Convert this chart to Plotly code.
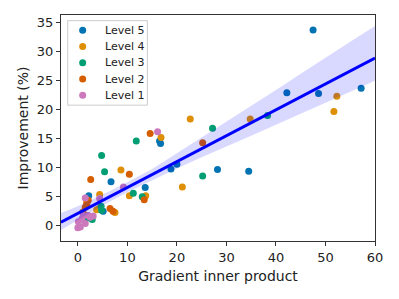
import plotly.graph_objects as go

# ---- data ----
levels = ["Level 5", "Level 4", "Level 3", "Level 2", "Level 1"]
colors = ["#0173B2", "#DE8F05", "#029E73", "#D55E00", "#CC78BC"]

l5_x = [47.5, 42.2, 48.6, 57.2, 28.2, 34.5, 16.5, 16.7, 6.7, 18.8, 20.0, 13.6, 2.2, 5.1]
l5_y = [33.7, 22.9, 22.8, 23.7, 9.7, 9.4, 14.6, 14.2, 7.6, 9.8, 10.6, 6.6, 5.2, 2.5]

l4_x = [22.7, 16.8, 21.1, 51.7, 52.3, 34.8, 8.7, 10.4, 13.7, 4.4, 1.8, 1.8, 3.8, 7.5, 1.0, 4.3]
l4_y = [18.4, 15.2, 6.7, 19.7, 22.3, 18.4, 9.6, 5.2, 5.2, 5.4, 4.4, 3.7, 2.8, 2.3, 2.4, 3.0]

l3_x = [4.8, 5.4, 11.8, 11.2, 13.0, 4.7, 4.8, 2.9, 27.2, 25.2, 38.3, 1.8]
l3_y = [12.1, 9.3, 14.6, 5.6, 5.0, 3.4, 2.7, 1.1, 16.8, 8.6, 19.0, 1.3]

l2_x = [14.6, 10.4, 2.6, 25.2, 13.4, 2.1, 1.8, 6.5, 7.1, 1.5, 1.2]
l2_y = [15.9, 8.9, 8.0, 14.3, 4.5, 4.4, 3.9, 3.0, 2.5, 3.2, 2.0]

l1_x = [16.1, 9.2, 1.5, 4.4, 1.1, 2.1, 3.1, 0.1, 0.5, 1.5, 0.0, 0.8, 2.5]
l1_y = [16.2, 6.7, 4.8, 4.7, 1.8, 1.8, 1.7, 0.7, -0.2, 0.4, -0.3, 1.2, 1.5]

level_x = [l5_x, l4_x, l3_x, l2_x, l1_x]
level_y = [l5_y, l4_y, l3_y, l2_y, l1_y]

# regression line and confidence band
fit_x = [-3.4, 60.0]
fit_y = [0.62, 28.9]
ci_x = [-3.4, 0, 5, 10, 15, 20, 25, 30, 35, 40, 45, 50, 55, 60]
ci_low = [-0.7, 1.0, 3.5, 5.8, 7.9, 9.9, 11.8, 13.6, 15.5, 17.4, 19.3, 21.2, 23.2, 25.0]
ci_high = [2.2, 3.4, 5.4, 7.5, 9.8, 12.5, 15.2, 17.9, 20.7, 23.4, 26.2, 29.0, 31.7, 34.4]

x_ticks = [0, 10, 20, 30, 40, 50, 60]
y_ticks = [0, 5, 10, 15, 20, 25, 30, 35]

fig = go.Figure()
for name, col, xs, ys in zip(levels, colors, level_x, level_y):
    fig.add_trace(go.Scatter(x=xs, y=ys, mode="markers", name=name, showlegend=False,
                             marker=dict(color=col, size=7, line=dict(width=0))))

fig.add_trace(go.Scatter(x=ci_x, y=ci_low, mode="lines", line=dict(width=0),
                         showlegend=False, hoverinfo="skip"))
fig.add_trace(go.Scatter(x=ci_x, y=ci_high, mode="lines", line=dict(width=0),
                         fill="tonexty", fillcolor="rgba(0,0,255,0.15)",
                         showlegend=False, hoverinfo="skip"))
fig.add_trace(go.Scatter(x=fit_x, y=fit_y, mode="lines",
                         line=dict(color="#0000FF", width=3),
                         showlegend=False, hoverinfo="skip"))

# ---- matplotlib-style compact legend (frame, markers, labels) ----
shapes = [dict(type="rect", xref="paper", yref="paper",
               x0=0.0213, x1=0.275, y0=0.601, y1=0.975,
               line=dict(color="#cccccc", width=1),
               fillcolor="rgba(255,255,255,0.8)", layer="above")]
annotations = []
row_top, row_step = 0.932, 0.0718
for i, (name, col) in enumerate(zip(levels, colors)):
    yy = row_top - i * row_step
    shapes.append(dict(type="circle", xref="paper", yref="paper",
                       xsizemode="pixel", ysizemode="pixel",
                       xanchor=0.069, yanchor=yy, x0=-3.5, x1=3.5, y0=-3.5, y1=3.5,
                       fillcolor=col, line=dict(width=0), layer="above"))
    annotations.append(dict(text=name, xref="paper", yref="paper",
                            x=0.1347, y=yy, xanchor="left", yanchor="middle",
                            showarrow=False,
                            font=dict(family="DejaVu Sans", size=11, color="#222222")))

axis_common = dict(showline=True, mirror=True, linecolor="#333333", linewidth=1,
                   ticks="outside", ticklen=4, tickwidth=1, tickcolor="#333333",
                   showgrid=False, zeroline=False, automargin=False,
                   tickfont=dict(family="DejaVu Sans", size=13, color="#222222"))

# page body has an 8px default margin, so the figure is sized to fit the window
fig.update_layout(
    width=391, height=291,
    margin=dict(l=53, r=24, t=7, b=58),
    paper_bgcolor="white", plot_bgcolor="white",
    font=dict(family="DejaVu Sans", color="#222222"),
    showlegend=False,
    shapes=shapes, annotations=annotations,
    xaxis=dict(range=[-3.4, 60], tickvals=x_ticks,
               title=dict(text="Gradient inner product", font=dict(size=14), standoff=7),
               **axis_common),
    yaxis=dict(range=[-2.6, 36.3], tickvals=y_ticks,
               title=dict(text="Improvement (%)", font=dict(size=14), standoff=4),
               **axis_common),
)

fig.write_html("out.html")
